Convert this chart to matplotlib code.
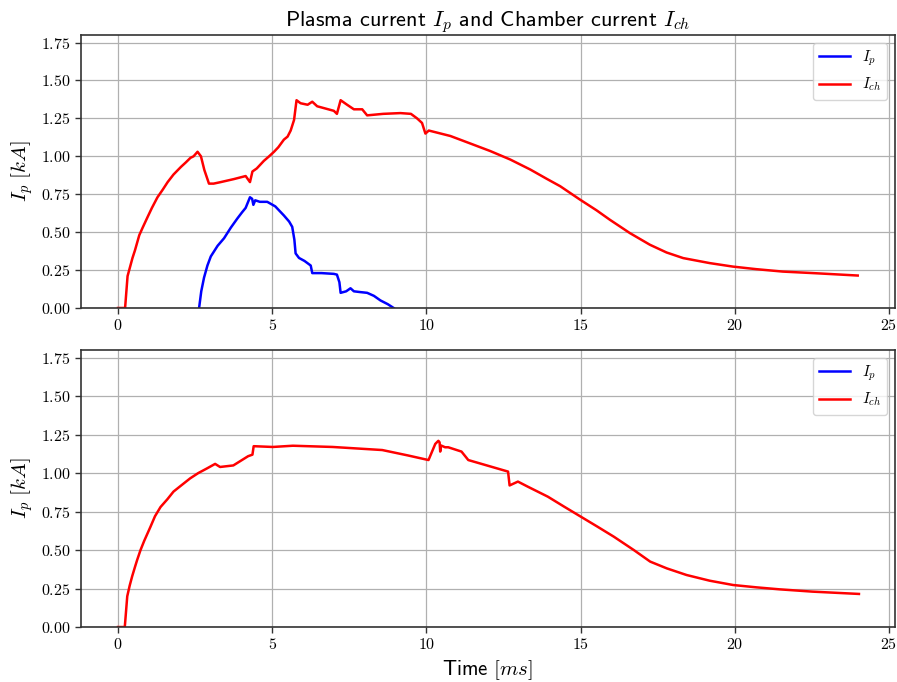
import matplotlib
matplotlib.use('Agg')
import matplotlib.pyplot as plt
from matplotlib.ticker import FuncFormatter, MultipleLocator

# Shot 1: plasma current (kA) vs time (ms)
t_ip1 = [2.63, 2.70, 2.79, 2.90, 3.01, 3.23, 3.44, 3.66, 3.87, 4.02, 4.14, 4.28, 4.35, 4.39, 4.45,
         4.6, 4.84, 5.1, 5.38, 5.55, 5.65, 5.72, 5.76, 5.87, 6.05, 6.25, 6.30, 6.6, 7.0, 7.1,
         7.18, 7.22, 7.4, 7.54, 7.65, 7.85, 8.08, 8.3, 8.51, 8.75, 8.94]
ip1 = [0.0, 0.11, 0.20, 0.28, 0.34, 0.41, 0.46, 0.53, 0.59, 0.63, 0.66, 0.73, 0.72, 0.68, 0.71,
       0.70, 0.70, 0.67, 0.61, 0.57, 0.535, 0.45, 0.36, 0.33, 0.31, 0.28, 0.23, 0.23, 0.225, 0.22,
       0.17, 0.10, 0.11, 0.13, 0.11, 0.105, 0.10, 0.08, 0.05, 0.025, 0.0]

# Shot 1: chamber current
t_ich1 = [0.0, 0.23, 0.31, 0.39, 0.47, 0.55, 0.69, 0.80, 0.96, 1.10, 1.28, 1.45, 1.61, 1.80, 2.04,
          2.20, 2.35, 2.45, 2.58, 2.69, 2.80, 2.95, 3.10, 3.33, 3.76, 4.14, 4.28, 4.36, 4.50, 4.73,
          4.90, 5.06, 5.20, 5.38, 5.50, 5.60, 5.71, 5.79, 5.92, 6.15, 6.30, 6.46, 7.0, 7.1, 7.22,
          7.43, 7.65, 7.92, 8.08, 8.6, 9.16, 9.5, 9.70, 9.86, 9.97, 10.08, 10.78, 11.42, 12.07,
          12.72, 13.37, 13.91, 14.34, 14.98, 15.52, 15.95, 16.60, 17.25, 17.79, 18.33, 19.19,
          19.94, 20.70, 21.56, 22.64, 23.99]
ich1 = [0.0, 0.0, 0.21, 0.27, 0.33, 0.38, 0.48, 0.53, 0.60, 0.66, 0.73, 0.78, 0.83, 0.88, 0.93,
        0.96, 0.99, 1.00, 1.03, 1.00, 0.91, 0.82, 0.82, 0.83, 0.85, 0.87, 0.83, 0.90, 0.92, 0.97,
        1.00, 1.03, 1.06, 1.11, 1.13, 1.17, 1.24, 1.37, 1.35, 1.34, 1.36, 1.33, 1.30, 1.28, 1.37,
        1.34, 1.31, 1.31, 1.27, 1.28, 1.285, 1.28, 1.25, 1.22, 1.15, 1.17, 1.134, 1.085, 1.035,
        0.979, 0.913, 0.851, 0.803, 0.715, 0.644, 0.582, 0.494, 0.417, 0.366, 0.329, 0.296,
        0.273, 0.256, 0.240, 0.229, 0.214]

# Shot 2: no plasma current recorded
t_ip2 = []
ip2 = []

# Shot 2: chamber current
t_ich2 = [0.0, 0.22, 0.30, 0.38, 0.46, 0.55, 0.62, 0.73, 0.85, 1.05, 1.20, 1.38, 1.60, 1.80, 2.05,
          2.34, 2.60, 2.88, 3.15, 3.31, 3.74, 4.22, 4.36, 4.40, 5.02, 5.67, 6.96, 8.57, 9.40, 10.07,
          10.29, 10.39, 10.43, 10.45, 10.47, 10.61, 10.71, 11.14, 11.36, 12.65, 12.70, 12.97,
          13.29, 13.94, 14.47, 15.01, 15.55, 16.08, 16.73, 17.26, 17.80, 18.44, 19.19, 19.95,
          20.70, 21.45, 22.52, 24.03]
ich2 = [0.0, 0.0, 0.20, 0.27, 0.33, 0.39, 0.435, 0.50, 0.56, 0.65, 0.72, 0.78, 0.83, 0.88, 0.92,
        0.966, 1.00, 1.03, 1.06, 1.04, 1.05, 1.11, 1.12, 1.175, 1.17, 1.178, 1.17, 1.15, 1.115,
        1.085, 1.19, 1.21, 1.20, 1.14, 1.18, 1.168, 1.168, 1.14, 1.085, 1.01, 0.92, 0.945, 0.912,
        0.847, 0.782, 0.717, 0.652, 0.587, 0.500, 0.425, 0.381, 0.338, 0.301, 0.273, 0.258,
        0.245, 0.230, 0.215]

plt.rcParams['mathtext.fontset'] = 'cm'
plt.rcParams['font.family'] = ['cmss10', 'DejaVu Sans']
plt.rcParams['axes.unicode_minus'] = False

fig = plt.figure(figsize=(8.97, 6.82), dpi=100)
ax1 = fig.add_axes([0.0903, 0.5484, 0.9075, 0.4003])
ax2 = fig.add_axes([0.0903, 0.0806, 0.9075, 0.4062], sharex=ax1)

shots = [(ax1, t_ip1, ip1, t_ich1, ich1), (ax2, t_ip2, ip2, t_ich2, ich2)]
for ax, tp, ip, tc, ic in shots:
    ax.plot(tp, ip, color='blue', linewidth=1.8, label=r'$I_p$')
    ax.plot(tc, ic, color='red', linewidth=1.8, label=r'$I_{ch}$')
    ax.set_ylim(0, 1.8)
    ax.set_xlim(-1.2, 25.2)
    ax.xaxis.set_major_locator(MultipleLocator(5))
    ax.yaxis.set_major_locator(MultipleLocator(0.25))
    ax.xaxis.set_major_formatter(FuncFormatter(lambda x, pos: f'${x:g}$'))
    ax.yaxis.set_major_formatter(FuncFormatter(lambda y, pos: f'${y:.2f}$'))
    ax.tick_params(labelsize=11.5, color='#333333', width=1.0, length=4)
    ax.grid(True, color='#b0b0b0', linewidth=0.9)
    for s in ax.spines.values():
        s.set_color('#333333')
        s.set_linewidth(1.2)
    ax.set_ylabel(r'$I_p\ [kA]$', fontsize=15)
    ax.legend(loc='upper right', fontsize=11)

ax1.tick_params(labelbottom=True)
ax1.set_title(r'Plasma current $I_p$ and Chamber current $I_{ch}$', fontsize=16)
ax2.set_xlabel(r'Time $[ms]$', fontsize=15)

fig.savefig('out.png', dpi=100)
